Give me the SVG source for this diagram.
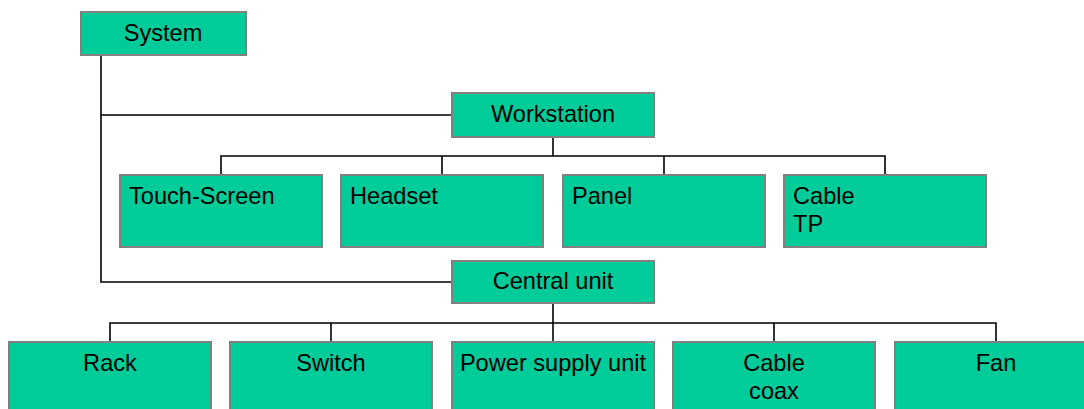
<svg xmlns="http://www.w3.org/2000/svg" width="1084" height="409" viewBox="0 0 1084 409">
<style>
.box{fill:#00CC99;stroke:#808080;stroke-width:2}
.t{font-family:"Liberation Sans",Arial,sans-serif;font-size:23.6px;fill:#000}
.c{text-anchor:middle}
.conn{fill:none;stroke:#000;stroke-width:1.6}
</style>
<rect width="1084" height="409" fill="#fff"/>
<g id="connectors">
<polyline class="conn" points="101,55 101,115 452,115"/>
<polyline class="conn" points="101,115 101,282 452,282"/>
<line class="conn" x1="553" y1="137" x2="553" y2="156"/>
<polyline class="conn" points="221,175 221,156 885,156 885,175"/>
<line class="conn" x1="442" y1="156" x2="442" y2="175"/>
<line class="conn" x1="664" y1="156" x2="664" y2="175"/>
<line class="conn" x1="553" y1="303" x2="553" y2="342"/>
<polyline class="conn" points="110,342 110,323 996,323 996,342"/>
<line class="conn" x1="331" y1="323" x2="331" y2="342"/>
<line class="conn" x1="774" y1="323" x2="774" y2="342"/>
</g>
<g id="system"><rect class="box" x="81" y="12" width="165" height="43"/><text class="t c" x="163" y="41">System</text></g>
<g id="workstation"><rect class="box" x="452" y="93" width="202" height="44"/><text class="t c" x="553" y="122">Workstation</text></g>
<g id="touchscreen"><rect class="box" x="120" y="175" width="202" height="72"/><text class="t" x="129" y="204">Touch-Screen</text></g>
<g id="headset"><rect class="box" x="341" y="175" width="202" height="72"/><text class="t" x="350" y="204">Headset</text></g>
<g id="panel"><rect class="box" x="563" y="175" width="202" height="72"/><text class="t" x="572" y="204">Panel</text></g>
<g id="cabletp"><rect class="box" x="784" y="175" width="202" height="72"/><text class="t" x="793" y="204">Cable</text><text class="t" x="793" y="232">TP</text></g>
<g id="centralunit"><rect class="box" x="452" y="261" width="202" height="42"/><text class="t c" x="553" y="289">Central unit</text></g>
<g id="rack"><rect class="box" x="9" y="342" width="202" height="80"/><text class="t c" x="110" y="371">Rack</text></g>
<g id="switch"><rect class="box" x="230" y="342" width="202" height="80"/><text class="t c" x="331" y="371">Switch</text></g>
<g id="psu"><rect class="box" x="452" y="342" width="202" height="80"/><text class="t c" x="553" y="371">Power supply unit</text></g>
<g id="cablecoax"><rect class="box" x="673" y="342" width="202" height="80"/><text class="t c" x="774" y="371">Cable</text><text class="t c" x="774" y="399">coax</text></g>
<g id="fan"><rect class="box" x="895" y="342" width="202" height="80"/><text class="t c" x="996" y="371">Fan</text></g>
</svg>
